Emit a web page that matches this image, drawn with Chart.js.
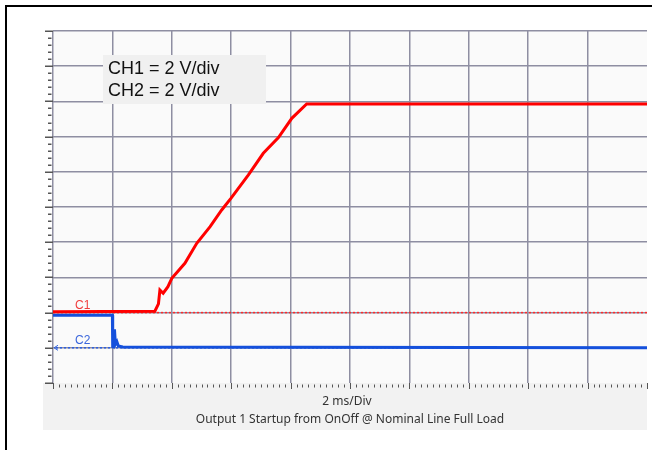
<!DOCTYPE html>
<html>
<head>
<meta charset="utf-8">
<script src="https://cdn.jsdelivr.net/npm/chart.js@4.4.0/dist/chart.umd.min.js"></script>
<style>
  html, body { margin: 0; padding: 0; background: #fff; }
  canvas { display: block; }
</style>
</head>
<body>
<canvas id="scope" width="652" height="450"></canvas>
<script>
// scope settings
const timePerDiv = 2;      // ms/div
const voltsPerDiv = 2;     // V/div for both channels
const timeDivs = 10;
const voltDivs = 10;
const ch1Ground = 2;       // ground marker position, in divisions from bottom
const ch2Ground = 1;

// CH1 (red) - output voltage
const ch1Time  = [0, 3.43, 3.55, 3.60, 3.71, 3.87, 4.00, 4.44, 4.84, 5.29, 5.68, 5.99, 6.58, 7.08, 7.59, 8.04, 8.54, 20];
const ch1Volts = [0.05, 0.08, 0.5, 1.28, 1.10, 1.47, 1.95, 2.80, 3.94, 4.88, 5.83, 6.49, 7.82, 9.05, 9.94, 11.04, 11.85, 11.85];

// CH2 (blue) - OnOff signal
const ch2Time  = [0, 2.0, 2.01, 2.05, 2.07, 2.10, 2.15, 2.20, 2.35, 20];
const ch2Volts = [1.85, 1.85, 0, 0.7, 1.05, 0.2, 0.35, 0.1, 0.05, 0];

const xLabel = '2 ms/Div';
const caption = 'Output 1 Startup from OnOff @ Nominal Line Full Load';
const legendLines = ['CH1 = 2 V/div', 'CH2 = 2 V/div'];

const toDiv = (v, ground) => ground + v / voltsPerDiv;

const ch1Data = ch1Time.map((t, i) => ({ x: t, y: toDiv(ch1Volts[i], ch1Ground) }));
const ch2Data = ch2Time.map((t, i) => ({ x: t, y: toDiv(ch2Volts[i], ch2Ground) }));

const gridColor = '#8e8ea2';

const scopeDecor = {
  id: 'scopeDecor',
  beforeDraw(chart) {
    const ctx = chart.ctx;
    const a = chart.chartArea;
    ctx.save();
    ctx.fillStyle = '#fff';
    ctx.fillRect(0, 0, chart.width, chart.height);
    // outer frame
    ctx.fillStyle = '#000';
    ctx.fillRect(5, 5, chart.width - 5, 2);
    ctx.fillRect(5, 5, 2, chart.height - 5);
    // caption panel
    ctx.fillStyle = '#f2f2f2';
    ctx.fillRect(43, a.bottom, a.right - 43, 430 - a.bottom);
    // plot background
    ctx.fillStyle = '#fafafa';
    ctx.fillRect(a.left, a.top, a.right - a.left, a.bottom - a.top);
    ctx.restore();
  },
  beforeDatasetsDraw(chart) {
    const ctx = chart.ctx;
    const a = chart.chartArea;
    const ys = chart.scales.y;
    ctx.save();
    ctx.lineWidth = 1.5;
    ctx.setLineDash([2, 2]);
    // ground markers
    const g1 = ys.getPixelForValue(ch1Ground);
    ctx.strokeStyle = '#ff2a2a';
    ctx.beginPath(); ctx.moveTo(a.left, g1); ctx.lineTo(a.right, g1); ctx.stroke();
    const g2 = ys.getPixelForValue(ch2Ground);
    ctx.strokeStyle = '#2a5ee0';
    ctx.beginPath(); ctx.moveTo(a.left + 3, g2); ctx.lineTo(a.right, g2); ctx.stroke();
    ctx.setLineDash([]);
    ctx.lineWidth = 1;
    ctx.beginPath();
    ctx.moveTo(a.left + 5, g2 - 2.5); ctx.lineTo(a.left + 1, g2); ctx.lineTo(a.left + 5, g2 + 2.5);
    ctx.stroke();
    ctx.font = '12px "Liberation Sans", Arial, sans-serif';
    ctx.textBaseline = 'alphabetic';
    ctx.fillStyle = '#f03c3c';
    ctx.fillText('C1', 75, g1 - 3.5);
    ctx.fillStyle = '#3a66dc';
    ctx.fillText('C2', 75, g2 - 4);
    ctx.restore();
  },
  afterDraw(chart) {
    const ctx = chart.ctx;
    const a = chart.chartArea;
    const xs = chart.scales.x;
    const ys = chart.scales.y;
    ctx.save();
    // left axis ticks
    ctx.strokeStyle = '#555';
    ctx.lineWidth = 1.5;
    for (let i = 0; i <= voltDivs * 5; i++) {
      const py = Math.round(ys.getPixelForValue(i / 5)) + 0.25;
      const major = i % 5 === 0;
      ctx.beginPath();
      ctx.moveTo(major ? 45 : 48, py);
      ctx.lineTo(major ? a.left : 51.5, py);
      ctx.stroke();
    }
    // bottom axis ticks
    ctx.lineWidth = 1;
    for (let i = 0; i <= timeDivs * 10; i++) {
      const px = Math.round(xs.getPixelForValue(i * timePerDiv / 10)) + 0.5;
      const major = i % 10 === 0;
      ctx.beginPath();
      ctx.moveTo(px, a.bottom + (major ? 0 : 1.5));
      ctx.lineTo(px, a.bottom + (major ? 6 : 4.5));
      ctx.stroke();
    }
    // channel scale box
    ctx.fillStyle = '#f0f0f0';
    ctx.fillRect(103, 55, 163, 49);
    ctx.fillStyle = '#111';
    ctx.font = '18px "Liberation Sans", Arial, sans-serif';
    ctx.textBaseline = 'alphabetic';
    ctx.fillText(legendLines[0], 108, 74);
    ctx.fillText(legendLines[1], 108, 96);
    // captions
    ctx.fillStyle = '#333';
    ctx.font = '12px "Noto Sans", sans-serif';
    ctx.textAlign = 'center';
    ctx.textBaseline = 'middle';
    const cx = (a.left + a.right) / 2;
    ctx.fillText(xLabel, cx - 3, 402);
    ctx.fillText(caption, cx, 420);
    ctx.restore();
  }
};

new Chart(document.getElementById('scope'), {
  type: 'line',
  data: {
    datasets: [
      { label: 'CH1', data: ch1Data, borderColor: '#ff0000', borderWidth: 3, pointRadius: 0, tension: 0 },
      { label: 'CH2', data: ch2Data, borderColor: '#1450dc', borderWidth: 3, pointRadius: 0, tension: 0 }
    ]
  },
  options: {
    responsive: false,
    animation: false,
    devicePixelRatio: 1,
    layout: { padding: { left: 53, top: 31, right: 5, bottom: 67 } },
    plugins: { legend: { display: false }, tooltip: { enabled: false } },
    scales: {
      x: {
        type: 'linear', min: 0, max: timeDivs * timePerDiv,
        ticks: { display: false, stepSize: timePerDiv },
        grid: {
          color: c => (c.tick && c.tick.value === timeDivs * timePerDiv) ? 'transparent' : gridColor,
          lineWidth: 1.5, drawTicks: false
        },
        border: { display: false }
      },
      y: {
        min: 0, max: voltDivs,
        ticks: { display: false, stepSize: 1 },
        grid: {
          color: c => (c.tick && c.tick.value === 0) ? 'transparent' : gridColor,
          lineWidth: 1.5, drawTicks: false
        },
        border: { display: false }
      }
    }
  },
  plugins: [scopeDecor]
});
</script>
</body>
</html>
